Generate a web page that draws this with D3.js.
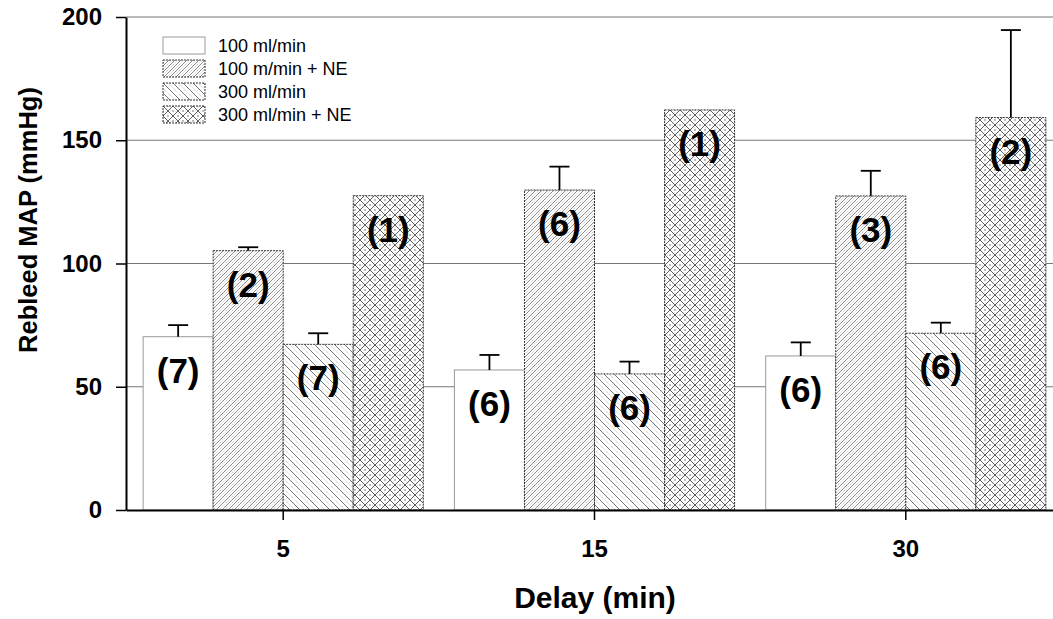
<!DOCTYPE html>
<html>
<head>
<meta charset="utf-8">
<script src="https://cdn.jsdelivr.net/npm/d3@7/dist/d3.min.js"></script>
<style>
  html, body { margin: 0; padding: 0; background: #fff; }
  svg { display: block; font-family: "Liberation Sans", Arial, Helvetica, sans-serif; }
</style>
</head>
<body>
<svg id="chart" width="1053" height="619"></svg>
<script>
// ---- data ----
const categories = ["5", "15", "30"];
const series = ["100 ml/min", "100 m/min + NE", "300 ml/min", "300 ml/min + NE"];
const means100 = [70.3, 56.8, 62.5];
const means100NE = [105.2, 129.8, 127.4];
const means300 = [67.2, 55.2, 71.7];
const means300NE = [127.5, 162.3, 159.2];
const err100 = [4.7, 6.1, 5.5];
const err100NE = [1.4, 9.5, 10.2];
const err300 = [4.5, 5.0, 4.3];
const err300NE = [0, 0, 35.5];
const n100 = [7, 6, 6];
const n100NE = [2, 6, 3];
const n300 = [7, 6, 6];
const n300NE = [1, 1, 2];
const yTicks = [0, 50, 100, 150, 200];
const yLabel = "Rebleed MAP (mmHg)";
const xLabel = "Delay (min)";

const seriesMeans = [means100, means100NE, means300, means300NE];
const seriesErr = [err100, err100NE, err300, err300NE];
const seriesN = [n100, n100NE, n300, n300NE];
const fills = ["#fff", "url(#p2)", "url(#p3)", "url(#p4)"];
const strokes = ["#999", "#333", "#333", "#333"];
const dashes = [null, "2,1", "2,1", "2,1"];

const rows = [];
categories.forEach((c, ci) => {
  series.forEach((s, si) => {
    rows.push({cat: c, ser: s, si, v: seriesMeans[si][ci], e: seriesErr[si][ci], n: seriesN[si][ci]});
  });
});

const svg = d3.select("#chart");
const font = '"Liberation Sans", Arial, Helvetica, sans-serif';

// ---- patterns ----
const defs = svg.append("defs");
// forward diagonal with stipple
const p2 = defs.append("pattern").attr("id", "p2").attr("patternUnits", "userSpaceOnUse")
  .attr("width", 6).attr("height", 6);
p2.append("rect").attr("width", 6).attr("height", 6).attr("fill", "#fff");
p2.append("path").attr("d", "M0,6 L6,0 M-1,1 L1,-1 M5,7 L7,5")
  .attr("stroke", "#555").attr("stroke-width", 0.7);
p2.append("path").attr("d", "M0,3 L3,0 M3,6 L6,3")
  .attr("stroke", "#c4c4c4").attr("stroke-width", 0.5);
p2.append("circle").attr("cx", 4.5).attr("cy", 4.5).attr("r", 0.45).attr("fill", "#aaa");

// backward diagonal with stipple
const p3 = defs.append("pattern").attr("id", "p3").attr("patternUnits", "userSpaceOnUse")
  .attr("width", 10).attr("height", 10);
p3.append("rect").attr("width", 10).attr("height", 10).attr("fill", "#fff");
p3.append("path").attr("d", "M0,0 L10,10 M-1,9 L1,11 M9,-1 L11,1")
  .attr("stroke", "#444").attr("stroke-width", 0.75);
p3.append("path").attr("d", "M5,0 L10,5 M0,5 L5,10")
  .attr("stroke", "#cfcfcf").attr("stroke-width", 0.5);
p3.append("circle").attr("cx", 7).attr("cy", 2).attr("r", 0.45).attr("fill", "#aaa");
p3.append("circle").attr("cx", 2).attr("cy", 7).attr("r", 0.45).attr("fill", "#aaa");

// crosshatch with dots
const p4 = defs.append("pattern").attr("id", "p4").attr("patternUnits", "userSpaceOnUse")
  .attr("width", 10).attr("height", 10);
p4.append("rect").attr("width", 10).attr("height", 10).attr("fill", "#fff");
p4.append("path").attr("d", "M0,0 L10,10 M10,0 L0,10 M-1,1 L1,-1 M9,11 L11,9 M-1,9 L1,11 M9,-1 L11,1")
  .attr("stroke", "#333").attr("stroke-width", 0.8);
[[5, 0], [0, 5], [10, 5], [5, 10]].forEach(([cx, cy]) =>
  p4.append("circle").attr("cx", cx).attr("cy", cy).attr("r", 0.7).attr("fill", "#444"));
[[2.5, 5], [7.5, 5], [5, 2.5], [5, 7.5]].forEach(([cx, cy]) =>
  p4.append("circle").attr("cx", cx).attr("cy", cy).attr("r", 0.4).attr("fill", "#aaa"));

// ---- scales ----
const x0 = d3.scaleBand().domain(categories).range([126, 1063]).paddingInner(0.1).paddingOuter(0.055);
const x1 = d3.scaleBand().domain(series).range([0, x0.bandwidth()]);
const y = d3.scaleLinear().domain([0, 200]).range([510, 17]);

// ---- gridlines ----
svg.append("g").selectAll("line").data(yTicks.filter(t => t > 0)).join("line")
  .attr("x1", 126).attr("x2", 1053)
  .attr("y1", d => y(d)).attr("y2", d => y(d))
  .attr("stroke", "#777").attr("stroke-width", 1);

// ---- bars ----
const bars = svg.append("g");
bars.selectAll("rect").data(rows).join("rect")
  .attr("x", d => x0(d.cat) + x1(d.ser))
  .attr("y", d => y(d.v))
  .attr("width", x1.bandwidth())
  .attr("height", d => y(0) - y(d.v))
  .attr("fill", d => fills[d.si])
  .attr("stroke", d => strokes[d.si])
  .attr("stroke-width", 1)
  .attr("stroke-dasharray", d => dashes[d.si]);

// ---- error bars ----
const eb = svg.append("g").attr("stroke", "#000").attr("stroke-width", 1.8);
rows.filter(d => d.e > 0).forEach(d => {
  const cx = x0(d.cat) + x1(d.ser) + x1.bandwidth() / 2;
  eb.append("line").attr("x1", cx).attr("x2", cx).attr("y1", y(d.v)).attr("y2", y(d.v + d.e));
  eb.append("line").attr("x1", cx - 10).attr("x2", cx + 10).attr("y1", y(d.v + d.e)).attr("y2", y(d.v + d.e));
});

// ---- n labels ----
svg.append("g").selectAll("text").data(rows).join("text")
  .attr("x", d => x0(d.cat) + x1(d.ser) + x1.bandwidth() / 2)
  .attr("y", d => y(d.v) + 46)
  .attr("text-anchor", "middle")
  .attr("font-family", font)
  .attr("font-weight", "bold")
  .attr("font-size", 35)
  .attr("fill", "#000")
  .text(d => "(" + d.n + ")");

// ---- axes ----
const yAxis = svg.append("g").attr("transform", "translate(126,0)")
  .call(d3.axisLeft(y).tickValues(yTicks).tickSize(10).tickSizeOuter(0).tickPadding(14));
yAxis.select(".domain").attr("stroke", "#000").attr("stroke-width", 2);
yAxis.selectAll(".tick line").attr("stroke", "#000").attr("stroke-width", 1.5);
yAxis.selectAll(".tick text").attr("font-family", font).attr("font-weight", "bold")
  .attr("font-size", 24).attr("fill", "#000");

const xAxis = svg.append("g").attr("transform", "translate(0,510)")
  .call(d3.axisBottom(x0).tickSize(10).tickSizeOuter(0).tickPadding(20));
xAxis.select(".domain").attr("stroke", "#000").attr("stroke-width", 2);
xAxis.selectAll(".tick line").attr("stroke", "#000").attr("stroke-width", 1.5);
xAxis.selectAll(".tick text").attr("font-family", font).attr("font-weight", "bold")
  .attr("font-size", 24).attr("fill", "#000");

// ---- axis titles ----
svg.append("text")
  .attr("transform", "translate(37,220) rotate(-90)")
  .attr("text-anchor", "middle")
  .attr("font-family", font).attr("font-weight", "bold").attr("font-size", 25.5)
  .text(yLabel);

svg.append("text")
  .attr("x", 595).attr("y", 608)
  .attr("text-anchor", "middle")
  .attr("font-family", font).attr("font-weight", "bold").attr("font-size", 30)
  .text(xLabel);

// ---- legend ----
const legend = svg.append("g");
const lg = legend.selectAll("g").data(series).join("g")
  .attr("transform", (d, i) => `translate(163,${37 + i * 23})`);
lg.append("rect").attr("width", 42).attr("height", 17)
  .attr("fill", (d, i) => fills[i])
  .attr("stroke", (d, i) => strokes[i])
  .attr("stroke-width", 1)
  .attr("stroke-dasharray", (d, i) => dashes[i]);
lg.append("text").attr("x", 55).attr("y", 15)
  .attr("font-family", font).attr("font-size", 18).attr("fill", "#000")
  .text(d => d);
</script>
</body>
</html>
